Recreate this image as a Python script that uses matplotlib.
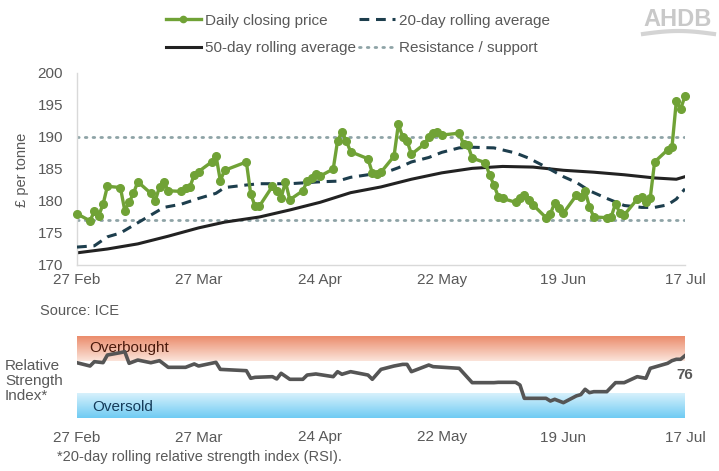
import matplotlib
matplotlib.use('Agg')
import matplotlib.pyplot as plt
import matplotlib.dates as mdates
from matplotlib.colors import LinearSegmentedColormap
from matplotlib.lines import Line2D
import numpy as np
import pandas as pd

plt.rcParams['font.family'] = ['Liberation Sans', 'DejaVu Sans']

# trading days (UK bank holidays closed)
holidays = ['2026-04-03', '2026-04-06', '2026-05-04', '2026-05-25']
days = pd.bdate_range('2026-02-27', '2026-07-17', freq='C', holidays=holidays)

# daily closing price, £/t (week by week)
close = [178.0,
         176.9, 178.4, 177.7, 179.5, 182.3,
         182.1, 178.5, 179.8, 181.2, 183.0,
         181.2, 180.0, 182.2, 183.0, 181.6,
         181.5, 182.0, 182.2, 184.1, 184.6,
         186.1, 187.1, 183.2, 184.8,
         186.1, 181.1, 179.2, 179.2,
         182.3, 181.6, 180.5, 183.0, 180.2,
         181.6, 183.1, 183.6, 184.2, 183.9,
         185.0, 189.4, 190.8, 189.4, 187.7,
         186.6, 184.4, 184.2, 184.5,
         187.0, 192.0, 190.0, 189.4, 187.3,
         188.9, 190.0, 190.6, 190.8, 190.3,
         190.6, 188.9, 188.7, 186.7,
         186.0, 184.1, 182.5, 180.7, 180.4,
         179.8, 180.4, 181.0, 180.2, 179.4,
         177.4, 178.0, 179.7, 178.9, 178.1,
         180.9, 180.6, 181.6, 179.1, 177.5,
         177.4, 177.5, 179.6, 178.1, 177.8,
         180.3, 180.6, 179.9, 180.5, 186.1,
         188.0, 188.4, 195.6, 194.4, 196.4]

ma20_dates = ['02-27', '03-03', '03-06', '03-09', '03-13', '03-16', '03-19', '03-23',
              '03-27', '03-31', '04-02', '04-07', '04-10', '04-17', '04-24', '04-28',
              '05-01', '05-05', '05-08', '05-12', '05-15', '05-19', '05-22', '05-26',
              '05-29', '06-03', '06-08', '06-11', '06-15', '06-19', '06-22', '06-25',
              '06-29', '07-03', '07-07', '07-10', '07-13', '07-15', '07-17']
ma20 = [172.8, 173.0, 174.4, 175.0, 176.6, 177.8, 179.0, 179.5,
        180.4, 181.2, 182.1, 182.5, 182.7, 182.7, 183.0, 183.1,
        183.7, 184.1, 184.2, 185.2, 186.1, 186.8, 187.6, 188.3,
        188.4, 188.3, 187.5, 186.7, 185.3, 183.8, 182.9, 181.6,
        180.4, 179.3, 179.0, 179.0, 179.4, 180.3, 181.9]

ma50_dates = ['02-27', '03-06', '03-13', '03-20', '03-27', '04-02', '04-10', '04-17',
              '04-24', '05-01', '05-08', '05-15', '05-22', '05-29', '06-05', '06-12',
              '06-19', '06-26', '07-03', '07-10', '07-15', '07-17']
ma50 = [171.9, 172.5, 173.3, 174.5, 175.8, 176.7, 177.5, 178.6,
        179.8, 181.3, 182.2, 183.4, 184.4, 185.1, 185.4, 185.3,
        184.8, 184.5, 184.1, 183.6, 183.4, 183.8]

resistance = 190
support = 177

rsi_dates = ['02-27', '03-02', '03-03', '03-05', '03-06', '03-09', '03-10', '03-11',
             '03-13', '03-16', '03-18', '03-20', '03-24', '03-26', '03-27', '03-31',
             '04-01', '04-07', '04-08', '04-09', '04-13', '04-14', '04-15', '04-17',
             '04-20', '04-21', '04-23', '04-27', '04-28', '04-29', '05-01', '05-05',
             '05-06', '05-08', '05-11', '05-13', '05-14', '05-15', '05-19', '05-20',
             '05-26', '05-29', '06-03', '06-04', '06-08', '06-09', '06-10', '06-15',
             '06-16', '06-17', '06-19', '06-22', '06-23', '06-24', '06-25', '06-26',
             '06-29', '07-01', '07-03', '07-06', '07-08', '07-09', '07-13', '07-14',
             '07-15', '07-16', '07-17']
rsi = [67.4, 63.4, 68.7, 67.5, 76.8, 79.7, 80.9, 66.7,
       70.7, 67.4, 69.9, 61.8, 61.8, 65.9, 63.4, 67.9,
       59.3, 57.7, 48.4, 49.6, 50.4, 47.6, 54.5, 47.2,
       47.2, 52.4, 53.7, 50.4, 56.5, 53.3, 56.5, 52.4,
       47.2, 59.3, 63.4, 65.4, 65.4, 56.5, 64.6, 62.6,
       60.6, 43.1, 43.1, 43.5, 43.5, 40.2, 24.0, 24.0,
       20.7, 22.8, 18.7, 27.0, 28.5, 35.0, 30.9, 32.1,
       32.1, 43.1, 43.1, 50.4, 48.4, 60.6, 66.7, 69.9,
       71.6, 71.6, 76.0]

tick_dates = ['02-27', '03-27', '04-24', '05-22', '06-19', '07-17']


def to_dates(lst):
    return pd.to_datetime(['2026-' + d for d in lst])


green = '#70a236'
grey_txt = '#595959'
axis_col = '#d9d9d9'

fig = plt.figure(figsize=(7.19, 4.71), dpi=100)
W, H = 719, 471

# ---- main price chart
ax = fig.add_axes([77 / W, 1 - 265 / H, 608 / W, 192 / H])
x0, x1 = days[0], days[-1]
ax.set_xlim(x0, x1)
ax.set_ylim(170, 200)

ax.plot([x0, x1], [resistance, resistance], color='#8ea3a6', lw=2, ls=(0, (0.6, 2.2)),
        dash_capstyle='round', zorder=1)
ax.plot([x0, x1], [support, support], color='#8ea3a6', lw=2, ls=(0, (0.6, 2.2)),
        dash_capstyle='round', zorder=1)
ax.plot(to_dates(ma50_dates), ma50, color='#222222', lw=2.2, zorder=2)
ax.plot(to_dates(ma20_dates), ma20, color='#1d3e4d', lw=2.2, ls=(0, (3.2, 2.2)), zorder=3)
ax.plot(days, close, color=green, lw=2.4, marker='o', ms=5.5, zorder=4, clip_on=False)

ax.set_yticks(range(170, 201, 5))
ax.set_xticks(to_dates(tick_dates))
ax.xaxis.set_major_formatter(mdates.DateFormatter('%d %b'))
ax.tick_params(axis='y', length=0, pad=10, labelsize=11, labelcolor=grey_txt)
ax.tick_params(axis='x', length=0, pad=6, labelsize=11, labelcolor=grey_txt)
for s in ['top', 'right']:
    ax.spines[s].set_visible(False)
for s in ['left', 'bottom']:
    ax.spines[s].set_color(axis_col)
    ax.spines[s].set_linewidth(1)

fig.text(22 / W, 1 - 170 / H, '£ per tonne', rotation=90, ha='center', va='center',
         fontsize=10.5, color=grey_txt)
fig.text(40 / W, 1 - 311 / H, 'Source: ICE', ha='left', va='center',
         fontsize=10.5, color=grey_txt)

handles = [Line2D([], [], color=green, lw=2.4, marker='o', ms=4.5),
           Line2D([], [], color='#222222', lw=2.2),
           Line2D([], [], color='#1d3e4d', lw=2.2, ls=(0, (3.2, 2.2))),
           Line2D([], [], color='#8ea3a6', lw=2, ls=(0, (0.6, 2.2)), dash_capstyle='round')]
labels = ['Daily closing price', '50-day rolling average',
          '20-day rolling average', 'Resistance / support']
fig.legend(handles, labels, loc='upper left', bbox_to_anchor=(158 / W, 1 - 6 / H),
           ncol=2, frameon=False, fontsize=11, handlelength=2.3, handletextpad=0.3,
           columnspacing=0.2, labelspacing=0.9, labelcolor=grey_txt, borderpad=0)

# AHDB logo
fig.text(678 / W, 1 - 19 / H, 'AHDB', ha='center', va='center', fontsize=17,
         fontweight='bold', color='#c9c9c9')
sx = np.linspace(643, 714, 30)
sy = 34 - 3 * np.sin((sx - 643) / 71 * np.pi)
fig.add_artist(Line2D(sx / W, 1 - sy / H, color='#d4d4d4', lw=3, transform=fig.transFigure))

# ---- RSI panel
ax2 = fig.add_axes([77 / W, 1 - 418 / H, 608 / W, 82 / H])
ax2.set_xlim(x0, x1)
ax2.set_ylim(0, 100)
xa, xb = mdates.date2num(x0), mdates.date2num(x1)
grad = np.linspace(0, 1, 100).reshape(-1, 1)
red_cm = LinearSegmentedColormap.from_list('ob', ['#fbe4da', '#eb8c6c'])
blue_cm = LinearSegmentedColormap.from_list('os', ['#6fcbf3', '#d7f1fc'])
ax2.imshow(grad, extent=[xa, xb, 70, 100], origin='lower', aspect='auto', cmap=red_cm, zorder=0)
ax2.imshow(grad, extent=[xa, xb, 0, 30], origin='lower', aspect='auto', cmap=blue_cm, zorder=0)
ax2.plot(to_dates(rsi_dates), rsi, color='#555555', lw=2.6, zorder=3)
ax2.set_xlim(x0, x1)
ax2.set_ylim(0, 100)
ax2.text(0.02, 85, 'Overbought', transform=ax2.get_yaxis_transform(), fontsize=11,
         color='#4a1a0c', va='center', ha='left', zorder=2)
ax2.text(0.025, 13, 'Oversold', transform=ax2.get_yaxis_transform(), fontsize=11,
         color='#163c5a', va='center', ha='left', zorder=2)
ax2.annotate('%d' % round(rsi[-1]), (to_dates(rsi_dates)[-1], rsi[-1]), xytext=(0, -14),
             textcoords='offset points', ha='center', va='center', fontsize=11,
             fontweight='bold', color=grey_txt, annotation_clip=False)
ax2.set_xticks(to_dates(tick_dates))
ax2.xaxis.set_major_formatter(mdates.DateFormatter('%d %b'))
ax2.set_yticks([])
ax2.tick_params(axis='x', length=0, pad=9, labelsize=11, labelcolor=grey_txt)
for s in ax2.spines.values():
    s.set_visible(False)

fig.text(5 / W, 1 - 381 / H, 'Relative\nStrength\nIndex*', ha='left', va='center',
         fontsize=11, color=grey_txt, linespacing=1.05)
fig.text(57 / W, 1 - 457 / H, '*20-day rolling relative strength index (RSI).',
         ha='left', va='center', fontsize=10.5, color=grey_txt)

fig.savefig('out.png', dpi=100)
